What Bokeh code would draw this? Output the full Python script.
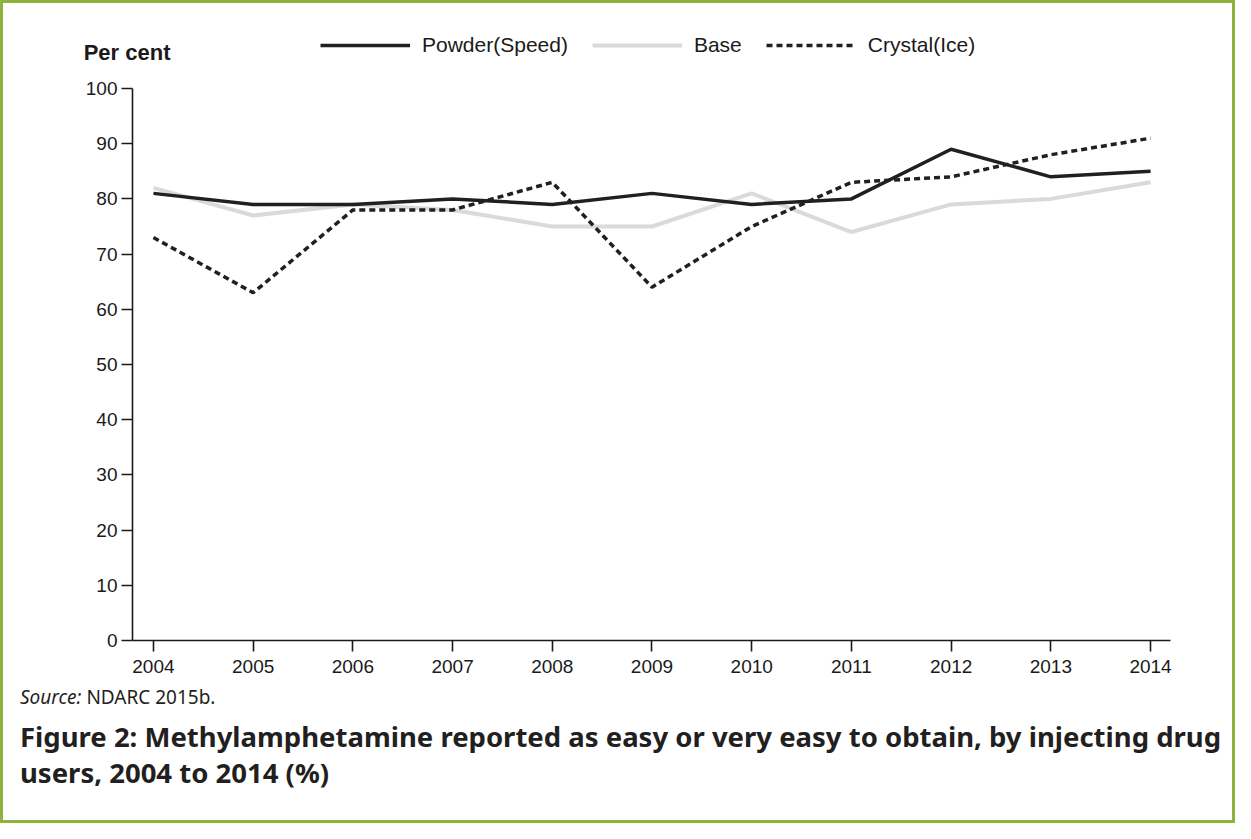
from bokeh.plotting import figure
from bokeh.layouts import column
from bokeh.models import (Range1d, FixedTicker, Legend, LegendItem, LinearAxis, Div,
                          ColumnDataSource)
from bokeh.embed import file_html
from bokeh.resources import INLINE

years = [2004, 2005, 2006, 2007, 2008, 2009, 2010, 2011, 2012, 2013, 2014]
powder = [81, 79, 79, 80, 79, 81, 79, 80, 89, 84, 85]
base = [82, 77, 79, 78, 75, 75, 81, 74, 79, 80, 83]
crystal = [73, 63, 78, 78, 83, 64, 75, 83, 84, 88, 91]
y_ticks = [0, 10, 20, 30, 40, 50, 60, 70, 80, 90, 100]
series_labels = ["Powder(Speed)", "Base", "Crystal(Ice)"]

y_title = "Per cent"
source_label = "Source:"
source_text = "NDARC 2015b."
caption_1 = "Figure 2: Methylamphetamine reported as easy or very easy to obtain, by injecting drug"
caption_2 = "users, 2004 to 2014 (%)"

# ---- layout (canvas pixels)
W, H_FIG, H_DIV = 1229, 680, 137
FL, FT, FR, FB = 129, 10, 1167, 637   # frame edges; y=100 sits at canvas y=85
Y100 = 85
px_per_unit = (FB - Y100) / 100.0
y_end = (FB - FT) / px_per_unit
INK = "#1a1a1a"
DARK = "#231f20"
GREEN = "#8cb33c"

p = figure(width=W, height=H_FIG, output_backend="svg", toolbar_location=None,
           x_range=Range1d(2003.79, 2014.2), y_range=Range1d(0, y_end),
           min_border_left=FL, min_border_right=W - FR, min_border_top=FT,
           min_border_bottom=H_FIG - FB)
p.title.visible = False
p.outline_line_color = None
p.grid.visible = False

for ax, ticks in ((p.xaxis[0], years), (p.yaxis[0], y_ticks)):
    ax.ticker = FixedTicker(ticks=ticks)
    ax.minor_tick_line_color = None
    ax.major_tick_in = 0
    ax.major_tick_out = 11
    ax.axis_line_width = 1.6
    ax.major_tick_line_width = 1.6
    ax.axis_line_color = INK
    ax.major_tick_line_color = INK
    ax.major_label_text_font = "Liberation Sans"
    ax.major_label_text_font_size = "19px"
    ax.major_label_text_color = INK
p.yaxis[0].bounds = (0, 100)
p.xaxis.major_label_standoff = 8
p.yaxis.major_label_standoff = 4

# "Per cent" heading: an extra, line-less left axis (pixel range) with one label
p.extra_y_ranges = {"heading": Range1d(0, FB - FT)}
title_pos = FB - 49
head = LinearAxis(y_range_name="heading", ticker=FixedTicker(ticks=[title_pos]),
                  major_label_overrides={title_pos: y_title},
                  axis_line_color=None, major_tick_line_color=None,
                  minor_tick_line_color=None, major_tick_out=0, major_tick_in=0,
                  major_label_standoff=-88, major_label_text_font="Liberation Sans",
                  major_label_text_font_size="22px", major_label_text_font_style="bold",
                  major_label_text_color=INK)
p.add_layout(head, "left")

src = ColumnDataSource(dict(x=years, powder=powder, base=base, crystal=crystal))
r_base = p.line("x", "base", source=src, line_color="#dadada", line_width=4)
r_powder = p.line("x", "powder", source=src, line_color=DARK, line_width=3.5)
r_crystal = p.line("x", "crystal", source=src, line_color=DARK, line_width=3.5,
                   line_dash="6 4")

legend = Legend(items=[LegendItem(label=series_labels[0], renderers=[r_powder]),
                       LegendItem(label=series_labels[1], renderers=[r_base]),
                       LegendItem(label=series_labels[2], renderers=[r_crystal])],
                orientation="horizontal", location=(317 - FL, FB - 54),
                glyph_width=90, glyph_height=20, label_standoff=12, spacing=24,
                padding=0, margin=0, border_line_color=None, background_fill_alpha=0,
                label_text_font="Liberation Sans", label_text_font_size="21px",
                label_text_color=INK, label_height=20)
p.add_layout(legend, "center")

html = (
    f'<div style="position:relative;width:{W}px;height:{H_DIV}px;'
    f'font-family:\'Noto Sans\';color:{DARK};">'
    f'<div style="position:absolute;left:17px;top:3px;font-size:19px;line-height:22px;'
    f'white-space:nowrap;"><i>{source_label}</i> {source_text}</div>'
    f'<div style="position:absolute;left:17px;top:36px;font-size:27.5px;line-height:36px;'
    f'font-weight:bold;white-space:nowrap;">{caption_1}<br>{caption_2}</div>'
    '</div>'
)
notes = Div(text=html, width=W, height=H_DIV, margin=0)

layout = column(p, notes, spacing=0,
                styles={"border": "3px solid " + GREEN, "background-color": "white"})

open("out.html", "w").write(file_html(layout, INLINE))
